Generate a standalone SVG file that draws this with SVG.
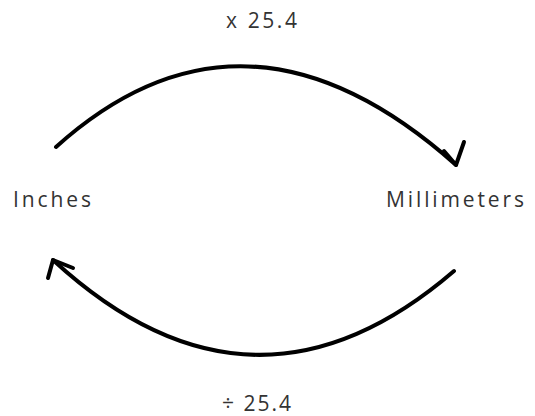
<svg xmlns="http://www.w3.org/2000/svg" width="535" height="416" viewBox="0 0 535 416">
<style>
.lbl{font-family:"Open Sans","Noto Sans","Liberation Sans",sans-serif;font-size:21px;fill:#333333}
.arc{fill:none;stroke:#000;stroke-width:4;stroke-linecap:round;stroke-linejoin:round}
</style>
<rect width="535" height="416" fill="#ffffff"/>
<g id="connectors">
<g id="to-mm">
<path class="arc" d="M56,147 Q245,-23 456,165"/>
<path class="arc" d="M444,151 L456,165 L464,142"/>
</g>
<g id="to-in">
<path class="arc" d="M454,271 Q253,444 53,260"/>
<path class="arc" d="M73,268 L53,260 L48,278"/>
</g>
</g>
<g id="label-mult"><text class="lbl" x="226" y="28" textLength="71" lengthAdjust="spacing">x 25.4</text></g>
<g id="node-inches"><text class="lbl" x="13" y="207" textLength="78" lengthAdjust="spacing">Inches</text></g>
<g id="node-mm"><text class="lbl" x="386" y="207" textLength="138" lengthAdjust="spacing">Millimeters</text></g>
<g id="label-div"><text class="lbl" x="222" y="411" textLength="69" lengthAdjust="spacing">÷ 25.4</text></g>
</svg>
